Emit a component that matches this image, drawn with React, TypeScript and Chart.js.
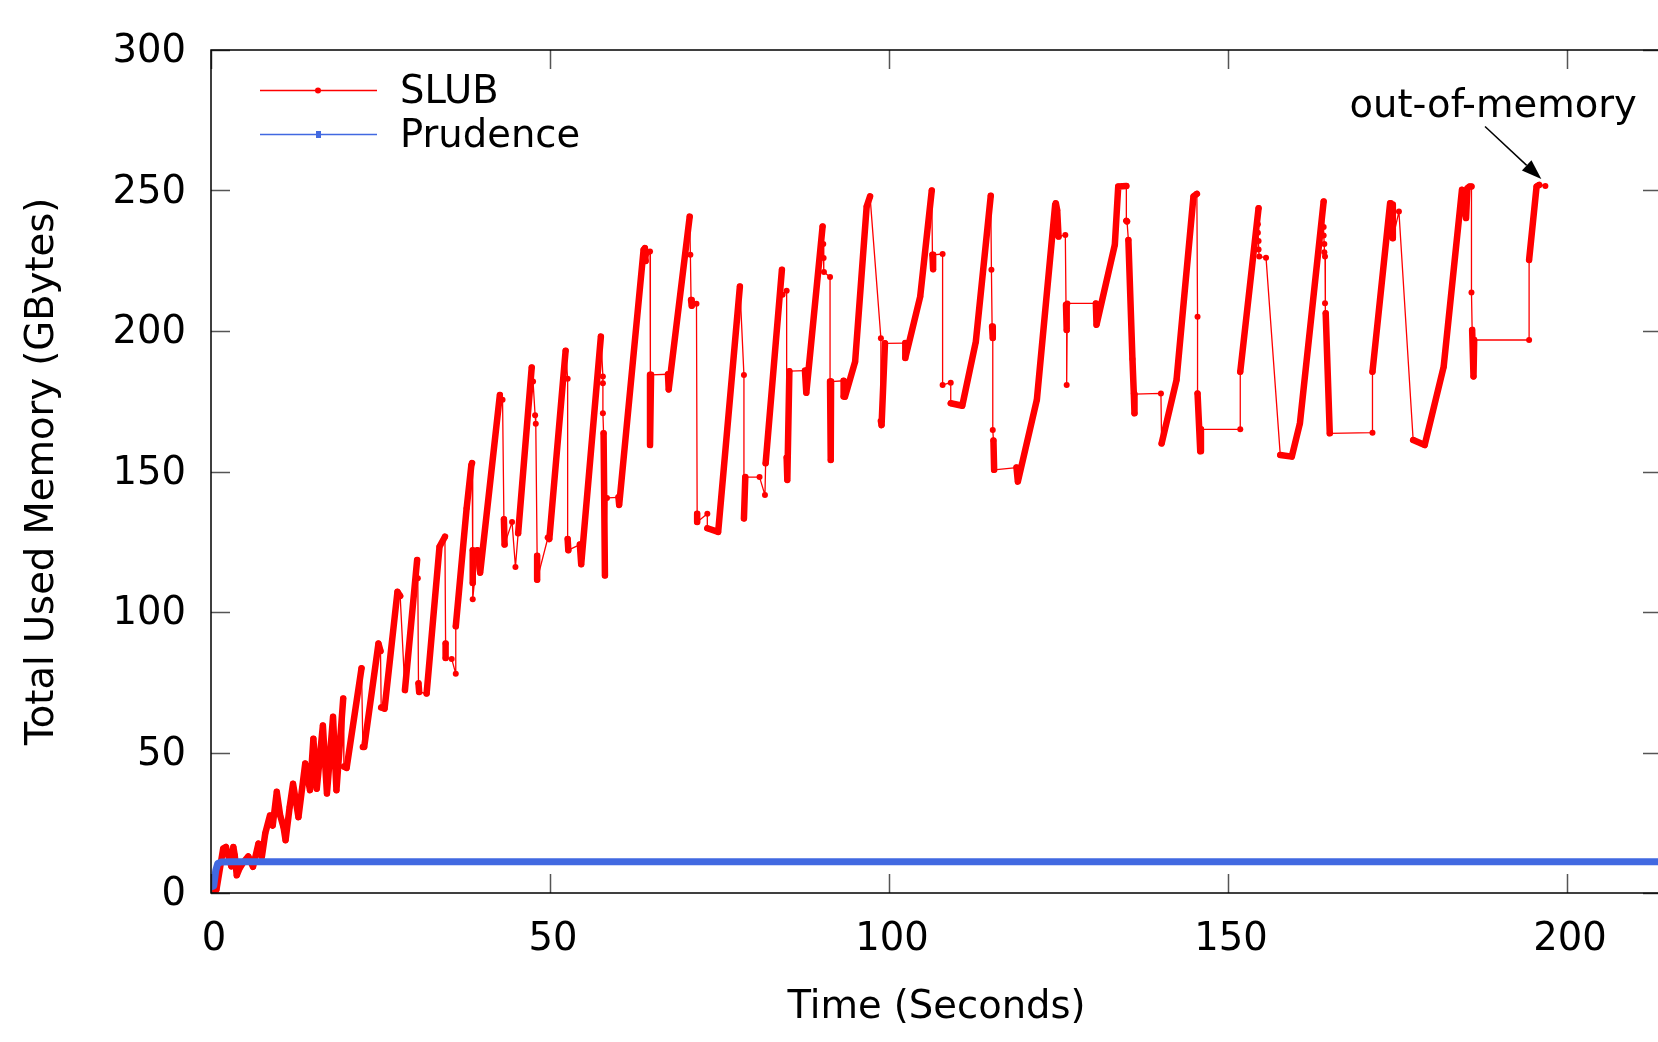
import React, { useEffect, useRef } from "react";
import { Chart, registerables } from "chart.js";

Chart.register(...registerables);

// ---------- data ----------
const seriesNames = ["SLUB", "Prudence"];
const xTitle = "Time (Seconds)";
const yTitle = "Total Used Memory (GBytes)";
const xTickValues = [0, 50, 100, 150, 200];
const yTickValues = [0, 50, 100, 150, 200, 250, 300];
const xRange = [0, 214];
const yRange = [0, 300];

const oomLabel = "out-of-memory";
const oomLabelAt = [189.1, 276];
const oomArrowFrom = [187.9, 272.8];
const oomArrowTo = [196.2, 254.1];

const prudenceTime = [0, 0.4, 0.7, 1.0, 1.5, 3, 50, 100, 150, 200, 214];
const prudenceMem = [2.2, 2.5, 8, 10.5, 11, 11.1, 11.1, 11.1, 11.1, 11.1, 11.1];

// SLUB samples as [time, GB]; each inner run is densely sampled,
// consecutive runs are separated by sparse samples.
const slubRuns: number[][][] = [
  [[0, 1], [0.8, 1.2], [1.8, 15.8], [2.2, 16.4], [2.6, 12.9], [3.0, 9.5], [3.3, 16.4], [3.5, 13.4], [3.8, 6.3], [4.2, 8.7], [4.8, 11], [5.5, 13], [6.2, 9.3], [7.0, 17.6], [7.5, 12.9], [8.0, 21.2], [8.7, 27.6], [9.1, 24], [9.7, 36], [10.2, 27.6], [10.7, 23.4], [11.0, 18.8], [11.6, 30.6], [12.1, 38.9], [12.9, 27], [13.9, 46.1], [14.6, 36.6], [15.1, 54.9], [15.6, 37.1], [16.5, 59.6], [17.1, 35.4], [18.0, 62.7], [18.5, 36.6], [19.5, 69.2]],
  [[19.6, 45], [20.0, 44.5], [22.2, 80]],
  [[22.4, 52], [22.6, 52], [24.7, 88.8], [25.0, 86.1]],
  [[25.1, 66], [25.6, 65.6], [27.5, 107.2], [27.9, 105.7]],
  [[28.6, 72.2], [30.4, 118.5]],
  [[30.5, 112]],
  [[30.6, 74.6], [30.7, 71.5]],
  [[31.8, 71], [33.7, 123.2], [34.5, 126.8]],
  [[34.6, 88.8], [34.6, 83.6]],
  [[35.5, 83.3]],
  [[36.1, 78]],
  [[36.1, 94.9], [37.7, 136.9], [38.4, 152.3], [38.5, 153]],
  [[38.6, 122], [38.6, 110.3]],
  [[38.6, 104.5]],
  [[39.3, 122], [39.7, 114], [42.6, 177.2]],
  [[43.0, 175.5]],
  [[43.2, 133], [43.3, 124]],
  [[44.4, 132]],
  [[44.9, 116]],
  [[45.3, 128], [47.3, 187]],
  [[47.5, 182]],
  [[47.8, 170]],
  [[47.9, 167]],
  [[48.1, 120], [48.1, 111.5]],
  [[49.7, 126.5], [49.9, 126], [52.3, 193]],
  [[52.6, 183]],
  [[52.6, 126], [52.7, 122]],
  [[54.4, 124], [54.6, 117], [57.5, 198]],
  [[57.8, 183.8]],
  [[57.8, 181.4]],
  [[57.8, 170.7]],
  [[57.9, 163.6], [58.1, 113]],
  [[58.4, 140.6]],
  [[60.1, 140.8], [60.2, 138.1], [63.8, 228.9], [64.0, 229.5], [64.1, 224.9]],
  [[64.75, 228.3]],
  [[64.8, 184.4], [64.75, 159.4], [64.9, 184.4]],
  [[67.4, 184.6], [67.5, 179.2], [70.6, 240.7]],
  [[70.7, 227.1]],
  [[70.8, 211], [70.9, 209]],
  [[71.6, 209.7]],
  [[71.7, 135], [71.7, 132]],
  [[73.2, 135]],
  [[73.2, 129.8], [74.8, 128.5], [78.0, 215.8]],
  [[78.6, 184.3]],
  [[78.6, 133.3], [78.8, 148]],
  [[80.9, 148]],
  [[81.7, 141.6]],
  [[81.8, 152.9], [84.2, 221.8]],
  [[84.3, 212.9]],
  [[84.9, 214.3]],
  [[84.9, 155], [85.0, 147], [85.3, 185.7]],
  [[87.6, 185.9], [87.8, 178], [90.2, 237.2]],
  [[90.3, 231]],
  [[90.35, 226]],
  [[90.4, 221]],
  [[91.3, 219.2]],
  [[91.3, 182], [91.4, 154.1], [91.45, 182]],
  [[93.3, 182.3], [93.3, 176.7], [93.5, 176.6], [95.0, 189.1], [96.7, 244.3], [97.2, 247.9]],
  [[98.8, 197.4]],
  [[98.8, 168], [98.9, 166.5], [99.4, 195.6]],
  [[102.4, 195.7], [102.4, 190.4], [104.6, 212.3], [106.3, 250]],
  [[106.4, 227.1], [106.5, 222], [106.5, 227.1]],
  [[107.9, 227.4]],
  [[107.9, 180.8]],
  [[109.1, 181.6]],
  [[109.1, 174.3], [110.8, 173.4], [112.8, 196.2], [115.0, 248.1]],
  [[115.1, 221.8]],
  [[115.2, 201.6], [115.3, 197.5]],
  [[115.3, 164.8]],
  [[115.4, 161], [115.5, 150.6]],
  [[118.8, 151.4], [119.0, 146.4], [121.8, 175.5], [124.5, 244.9], [124.6, 245.5], [124.8, 243], [125.0, 233.6]],
  [[126.0, 234.2]],
  [[126.1, 209.3], [126.2, 200.4]],
  [[126.2, 180.8]],
  [[126.3, 209.8]],
  [[130.5, 209.8], [130.6, 202.2], [133.3, 230.7], [133.8, 251.4], [135.0, 251.6]],
  [[135.0, 239.2], [135.1, 239]],
  [[135.3, 232.4], [135.9, 190], [136.1, 177.8], [136.2, 170.7], [136.2, 177.5]],
  [[140.1, 177.8]],
  [[140.2, 160], [142.4, 182.6], [144.9, 247.9], [145.4, 248.8]],
  [[145.5, 205.1]],
  [[145.5, 177.8], [145.9, 157.2], [146.0, 165]],
  [[151.8, 165]],
  [[151.8, 185.5], [154.5, 243.7]],
  [[154.4, 238]], [[154.4, 235]], [[154.5, 232]], [[154.5, 229]], [[154.6, 226.5]],
  [[155.6, 226.1]],
  [[157.7, 155.9], [159.4, 155.3], [160.6, 167.2], [164.1, 246.1]],
  [[164.1, 237]], [[164.1, 234]], [[164.2, 231]], [[164.2, 228]], [[164.3, 226.5]],
  [[164.3, 209.9]],
  [[164.4, 206.3], [165.0, 163.6]],
  [[171.3, 163.8]],
  [[171.3, 185.5], [173.9, 245.5], [174.0, 236], [174.2, 245], [174.3, 233]],
  [[175.2, 242.5]],
  [[177.3, 161.2], [179.0, 159.4], [181.8, 187.3], [184.5, 250.3], [184.6, 249.6], [185.1, 240.2], [185.3, 250.8], [185.6, 251.4], [185.9, 251.4]],
  [[185.9, 213.7]],
  [[186.0, 200.4], [186.2, 183.8], [186.3, 196.8]],
  [[194.4, 196.8]],
  [[194.4, 225.3], [195.5, 251.4], [195.9, 252]],
  [[196.8, 251.6]],
];

// ---------- styling ----------
const RED = "#ff0000";
const BLUE = "#4169e1";
const FONT = "'DejaVu Sans', 'Liberation Sans', sans-serif";
const FS = 38.5;
const CANVAS_W = 1680;
const CANVAS_H = 1042;

export default function App() {
  const canvasRef = useRef<HTMLCanvasElement | null>(null);

  useEffect(() => {
    const canvas = canvasRef.current;
    if (!canvas) return;

    const slubPoints: { x: number; y: number }[] = [];
    const sparseStart = new Set<number>();
    slubRuns.forEach((run, ri) => {
      run.forEach((p, pi) => {
        if (pi === 0 && ri > 0) sparseStart.add(slubPoints.length);
        slubPoints.push({ x: p[0], y: p[1] });
      });
    });
    const prudencePoints = prudenceTime.map((t, i) => ({ x: t, y: prudenceMem[i] }));

    const framePlugin = {
      id: "gnuplotFrame",
      afterDatasetsDraw(chart: any) {
        const { ctx, chartArea: a, scales } = chart;
        const xs = scales.x;
        const ys = scales.y;
        ctx.save();
        // tick marks (inward, mirrored)
        ctx.strokeStyle = "#555";
        ctx.lineWidth = 1.5;
        const tl = 19;
        ctx.beginPath();
        xTickValues.forEach((v) => {
          const px = Math.round(xs.getPixelForValue(v)) + 0.5;
          ctx.moveTo(px, a.bottom);
          ctx.lineTo(px, a.bottom - tl);
          ctx.moveTo(px, a.top);
          ctx.lineTo(px, a.top + tl);
        });
        yTickValues.forEach((v) => {
          const py = Math.round(ys.getPixelForValue(v)) + 0.5;
          ctx.moveTo(a.left, py);
          ctx.lineTo(a.left + tl, py);
          ctx.moveTo(a.right, py);
          ctx.lineTo(a.right - tl, py);
        });
        ctx.stroke();
        // border
        ctx.strokeStyle = "#000";
        ctx.lineWidth = 1.5;
        ctx.strokeRect(a.left, a.top, a.right - a.left, a.bottom - a.top);

        // y title
        ctx.fillStyle = "#000";
        ctx.font = `${FS}px ${FONT}`;
        ctx.textAlign = "center";
        ctx.textBaseline = "middle";
        ctx.translate(43, (a.top + a.bottom) / 2);
        ctx.rotate(-Math.PI / 2);
        ctx.fillText(yTitle, 0, 0);
        ctx.restore();

        // legend
        ctx.save();
        const legendRows = [
          { name: seriesNames[0], color: RED, y: 90 },
          { name: seriesNames[1], color: BLUE, y: 134 },
        ];
        legendRows.forEach((r, i) => {
          ctx.strokeStyle = r.color;
          ctx.lineWidth = 1.4;
          ctx.beginPath();
          ctx.moveTo(260, r.y + 0.5);
          ctx.lineTo(377, r.y + 0.5);
          ctx.stroke();
          ctx.fillStyle = r.color;
          if (i === 0) {
            ctx.beginPath();
            ctx.arc(318, r.y + 0.5, 3, 0, Math.PI * 2);
            ctx.fill();
          } else {
            ctx.fillRect(316, r.y - 3, 5, 7);
          }
          ctx.fillStyle = "#000";
          ctx.font = `${FS}px ${FONT}`;
          ctx.textAlign = "left";
          ctx.textBaseline = "alphabetic";
          ctx.fillText(r.name, 400, r.y + 13);
        });
        ctx.restore();

        // out-of-memory annotation
        ctx.save();
        const fx = xs.getPixelForValue(oomArrowFrom[0]);
        const fy = ys.getPixelForValue(oomArrowFrom[1]);
        const tx = xs.getPixelForValue(oomArrowTo[0]);
        const ty = ys.getPixelForValue(oomArrowTo[1]);
        const ang = Math.atan2(ty - fy, tx - fx);
        const hl = 20;
        const hw = 7;
        const bx = tx - hl * Math.cos(ang);
        const by = ty - hl * Math.sin(ang);
        ctx.strokeStyle = "#000";
        ctx.lineWidth = 1.5;
        ctx.beginPath();
        ctx.moveTo(fx, fy);
        ctx.lineTo(bx, by);
        ctx.stroke();
        ctx.fillStyle = "#000";
        ctx.beginPath();
        ctx.moveTo(tx, ty);
        ctx.lineTo(bx + hw * Math.sin(ang), by - hw * Math.cos(ang));
        ctx.lineTo(bx - hw * Math.sin(ang), by + hw * Math.cos(ang));
        ctx.closePath();
        ctx.fill();
        ctx.font = `${FS}px ${FONT}`;
        ctx.textAlign = "center";
        ctx.textBaseline = "alphabetic";
        ctx.fillText(oomLabel, xs.getPixelForValue(oomLabelAt[0]), ys.getPixelForValue(oomLabelAt[1]));
        ctx.restore();
      },
    };

    const chart = new Chart(canvas, {
      type: "line",
      data: {
        datasets: [
          {
            label: seriesNames[1],
            data: prudencePoints,
            borderColor: BLUE,
            backgroundColor: BLUE,
            borderWidth: 7,
            pointRadius: 0,
            borderCapStyle: "round",
            borderJoinStyle: "round",
            tension: 0,
            order: 0,
          },
          {
            label: seriesNames[0],
            data: slubPoints,
            borderColor: RED,
            backgroundColor: RED,
            borderWidth: 6.5,
            pointRadius: 3,
            pointBorderWidth: 0,
            pointBackgroundColor: RED,
            borderCapStyle: "round",
            borderJoinStyle: "round",
            tension: 0,
            order: 1,
            segment: {
              borderWidth: (ctx: any) => (sparseStart.has(ctx.p1DataIndex) ? 1.3 : 6.5),
            },
          },
        ],
      },
      options: {
        animation: false,
        responsive: false,
        devicePixelRatio: 1,
        layout: { padding: { left: 0, right: CANVAS_W - 1662, top: 50, bottom: 0 } },
        plugins: {
          legend: { display: false },
          tooltip: { enabled: false },
        },
        scales: {
          x: {
            type: "linear",
            min: xRange[0],
            max: xRange[1],
            grid: { display: false, drawTicks: false },
            border: { display: false },
            ticks: {
              stepSize: 50,
              padding: 24,
              labelOffset: 3,
              color: "#000",
              font: { family: FONT, size: FS, lineHeight: 1.2 },
              maxRotation: 0,
            },
            afterBuildTicks: (scale: any) => {
              scale.ticks = xTickValues.map((v) => ({ value: v }));
            },
            afterFit: (scale: any) => {
              scale.height = CANVAS_H - 893;
            },
            title: {
              display: true,
              text: xTitle,
              color: "#000",
              font: { family: FONT, size: FS, lineHeight: 1.2 },
              padding: { top: 0, bottom: 11 },
            },
          },
          y: {
            type: "linear",
            min: yRange[0],
            max: yRange[1],
            grid: { display: false, drawTicks: false },
            border: { display: false },
            ticks: {
              stepSize: 50,
              padding: 25,
              labelOffset: 2,
              color: "#000",
              font: { family: FONT, size: FS, lineHeight: 1.2 },
            },
            afterBuildTicks: (scale: any) => {
              scale.ticks = yTickValues.map((v) => ({ value: v }));
            },
            afterFit: (scale: any) => {
              scale.width = 211;
            },
          },
        },
      },
      plugins: [framePlugin],
    } as any);

    return () => {
      chart.destroy();
    };
  }, []);

  return (
    <div
      style={{
        position: "fixed",
        left: 0,
        top: 0,
        width: 1658,
        height: 1042,
        overflow: "hidden",
        background: "#fff",
      }}
    >
      <canvas ref={canvasRef} width={CANVAS_W} height={CANVAS_H} style={{ display: "block" }} />
    </div>
  );
}
